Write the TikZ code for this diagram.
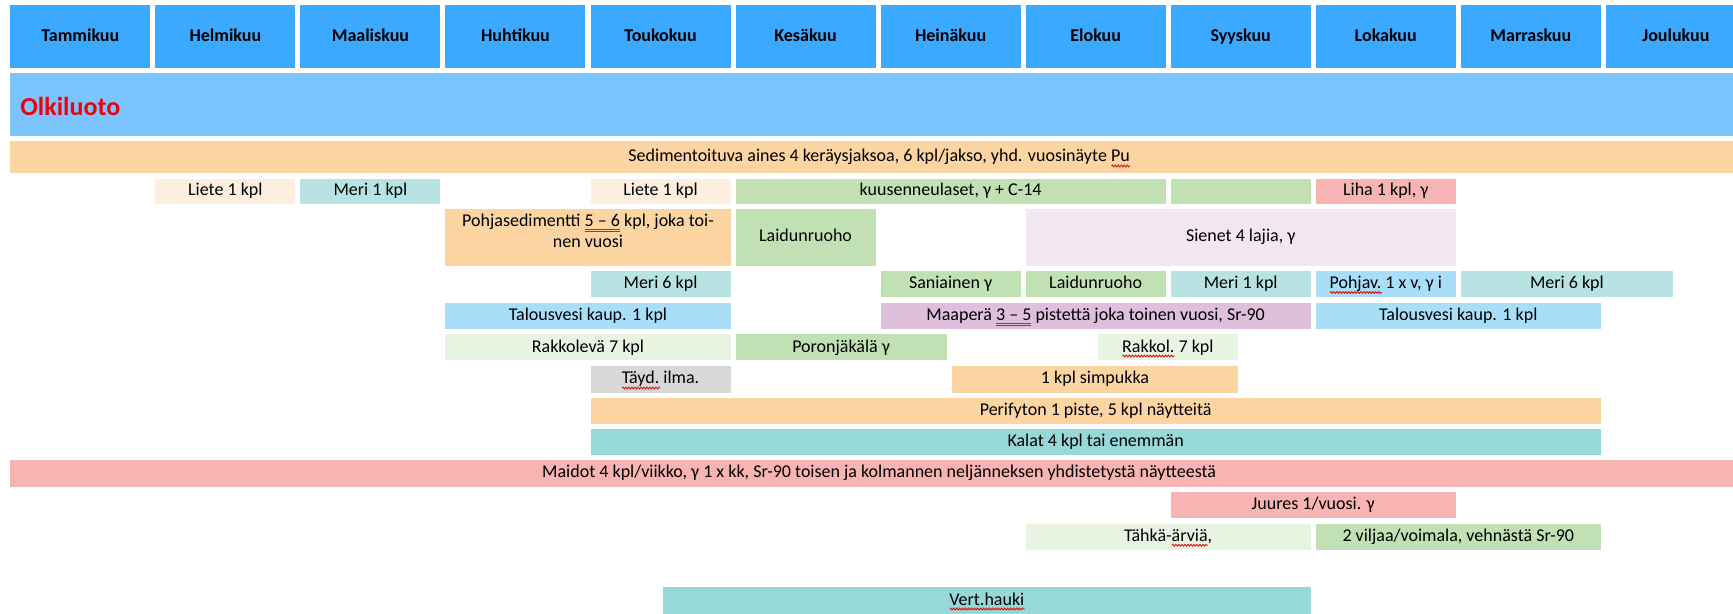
\documentclass[tikz,border=0pt]{standalone}
\usepackage{fontspec}
\setmainfont{Carlito}
\usetikzlibrary{decorations.pathmorphing}
\definecolor{hdr}{HTML}{3BA9FF}
\definecolor{olk}{HTML}{7BC4FE}
\definecolor{olkred}{HTML}{F0000F}
\definecolor{peach}{HTML}{FCD5A3}
\definecolor{liete}{HTML}{FDEFE0}
\definecolor{meri}{HTML}{B7E4E2}
\definecolor{grn}{HTML}{C1E1B4}
\definecolor{pink}{HTML}{F7B4B3}
\definecolor{lav}{HTML}{F2E6F1}
\definecolor{ltblue}{HTML}{A9DEF8}
\definecolor{purp}{HTML}{DEC0DD}
\definecolor{ltgrn}{HTML}{E8F3E2}
\definecolor{gry}{HTML}{D8D8D8}
\definecolor{teal}{HTML}{97D9D8}
\definecolor{wavered}{HTML}{E01010}
\definecolor{dblue}{HTML}{3050C8}
\newsavebox\ulbox
\newcommand\rwave[1]{\sbox\ulbox{#1}\rlap{\tikz[baseline=0pt,x=1pt,y=1pt]\draw[wavered,line width=0.45pt,decorate,decoration={zigzag,segment length=1.5pt,amplitude=0.45pt}] (0,-2) -- (\the\wd\ulbox,-2);}\usebox\ulbox}
\newcommand\bdline[1]{\sbox\ulbox{#1}\rlap{\color{dblue}\vrule width\wd\ulbox height-1.2pt depth1.6pt\kern-\wd\ulbox\vrule width\wd\ulbox height-2.3pt depth2.7pt}\usebox\ulbox}
\tikzset{
  txt/.style={inner sep=0pt, outer sep=0pt, font=\fontsize{9}{11}\selectfont, text=black, anchor=center},
  cell/.style={txt, text height=6.4pt, text depth=1.9pt},
  hdrcell/.style={cell, fill=hdr, font=\bfseries\fontsize{9}{11}\selectfont},
}
\newcommand\bx[7]{\node[cell, fill=#6, minimum width={(#4-#2)*0.5pt}, minimum height={(#5-#3)*0.5pt}] (#1) at ({(#2+#4)/2},{(#3+#5)/2}) {#7};}
\begin{document}
\begin{tikzpicture}[x=0.5pt,y=-0.5pt]
\useasboundingbox (0,0) rectangle (1733,614);
\fill[white] (0,0) rectangle (1733,614);
\clip (0,0) rectangle (1733,614);
% month header
\foreach \n [count=\i from 0] in {Tammikuu,Helmikuu,Maaliskuu,Huhtikuu,Toukokuu,Kesäkuu,Heinäkuu,Elokuu,Syyskuu,Lokakuu,Marraskuu,Joulukuu}{
  \pgfmathsetmacro\lx{10.3+145.05*\i+70}
  \node[hdrcell, minimum width=70pt, minimum height=31.75pt] (m\i) at (\lx,36.75) {\n};
}
% Olkiluoto band
\bx{olkband}{10.3}{73.5}{1748}{136.5}{olk}{}
\node[anchor=west, inner sep=0pt, font=\bfseries\fontsize{13}{15}\selectfont, text=olkred] (olktext) at (20,106) {Olkiluoto};
% Sedimentoituva
\bx{sed}{10.3}{141.5}{1748}{173.5}{peach}{Sedimentoituva aines 4 keräysjaksoa, 6 kpl/jakso, yhd. vuosinäyte \rwave{Pu}}
% row 1
\bx{liete1}{155.35}{179}{295.35}{204}{liete}{Liete 1 kpl}
\bx{meri1}{300.4}{179}{440.4}{204}{meri}{Meri 1 kpl}
\bx{liete2}{590.5}{179}{730.5}{204}{liete}{Liete 1 kpl}
\bx{kuusi}{735.55}{179}{1165.65}{204}{grn}{kuusenneulaset, γ + C-14}
\bx{grnempty}{1170.7}{179}{1310.7}{204}{grn}{}
\bx{liha}{1315.75}{179}{1455.75}{204}{pink}{Liha 1 kpl, γ}
% tall row
\bx{pohja}{445.45}{209}{730.5}{266}{peach}{}
\node[txt, align=center] (pohjatext) at (588,231) {Pohjasedimentti \bdline{5 – 6} kpl, joka toi-\\[-0.3pt]nen vuosi};
\bx{laidun1}{735.55}{209}{875.55}{266}{grn}{Laidunruoho}
\bx{sienet}{1025.65}{209}{1455.75}{266}{lav}{Sienet 4 lajia, γ}
% row 3
\bx{meri6a}{590.5}{271}{730.5}{297}{meri}{Meri 6 kpl}
\bx{sani}{880.6}{271}{1020.6}{297}{grn}{Saniainen γ}
\bx{laidun2}{1025.65}{271}{1165.65}{297}{grn}{Laidunruoho}
\bx{meri1b}{1170.7}{271}{1310.7}{297}{meri}{Meri 1 kpl}
\bx{pohjav}{1315.75}{271}{1455.75}{297}{ltblue}{\rwave{Pohjav.} 1 x v, γ i}
\bx{meri6b}{1460.8}{271}{1673}{297}{meri}{Meri 6 kpl}
% row 4
\bx{talous1}{445.45}{303}{730.5}{329}{ltblue}{Talousvesi kaup. 1 kpl}
\bx{maaper}{880.6}{303}{1310.7}{329}{purp}{Maaperä \bdline{3 – 5} pistettä joka toinen vuosi, Sr-90}
\bx{talous2}{1315.75}{303}{1600.8}{329}{ltblue}{Talousvesi kaup. 1 kpl}
% row 5
\bx{rakko}{445.45}{334.5}{730.5}{360.5}{ltgrn}{Rakkolevä 7 kpl}
\bx{poron}{735.55}{334.5}{946.6}{360.5}{grn}{Poronjäkälä γ}
\bx{rakkol}{1097.7}{334.5}{1238}{360.5}{ltgrn}{\rwave{Rakkol.} 7 kpl}
% row 6
\bx{ilma}{590.5}{366.5}{730.5}{392.5}{gry}{\rwave{Täyd.} ilma.}
\bx{simp}{952}{366.5}{1238}{392.5}{peach}{1 kpl simpukka}
% row 7, 8
\bx{peri}{590.5}{398}{1600.8}{423.5}{peach}{Perifyton 1 piste, 5 kpl näytteitä}
\bx{kalat}{590.5}{429}{1600.8}{455}{teal}{Kalat 4 kpl tai enemmän}
% Maidot
\bx{maidot}{10.3}{460}{1748}{486.5}{pink}{Maidot 4 kpl/viikko, γ 1 x kk, Sr-90 toisen ja kolmannen neljänneksen yhdistetystä näytteestä}
% row 10, 11
\bx{juures}{1170.7}{492}{1455.75}{518}{pink}{Juures 1/vuosi. γ}
\bx{tahka}{1025.65}{523.5}{1310.7}{550}{ltgrn}{Tähkä-\rwave{ärviä},}
\bx{vilja}{1315.75}{523.5}{1600.8}{550}{grn}{2 viljaa/voimala, vehnästä Sr-90}
% Vert.hauki
\bx{hauki}{663}{587}{1310.7}{614}{teal}{\rwave{Vert.hauki}}
\end{tikzpicture}
\end{document}
